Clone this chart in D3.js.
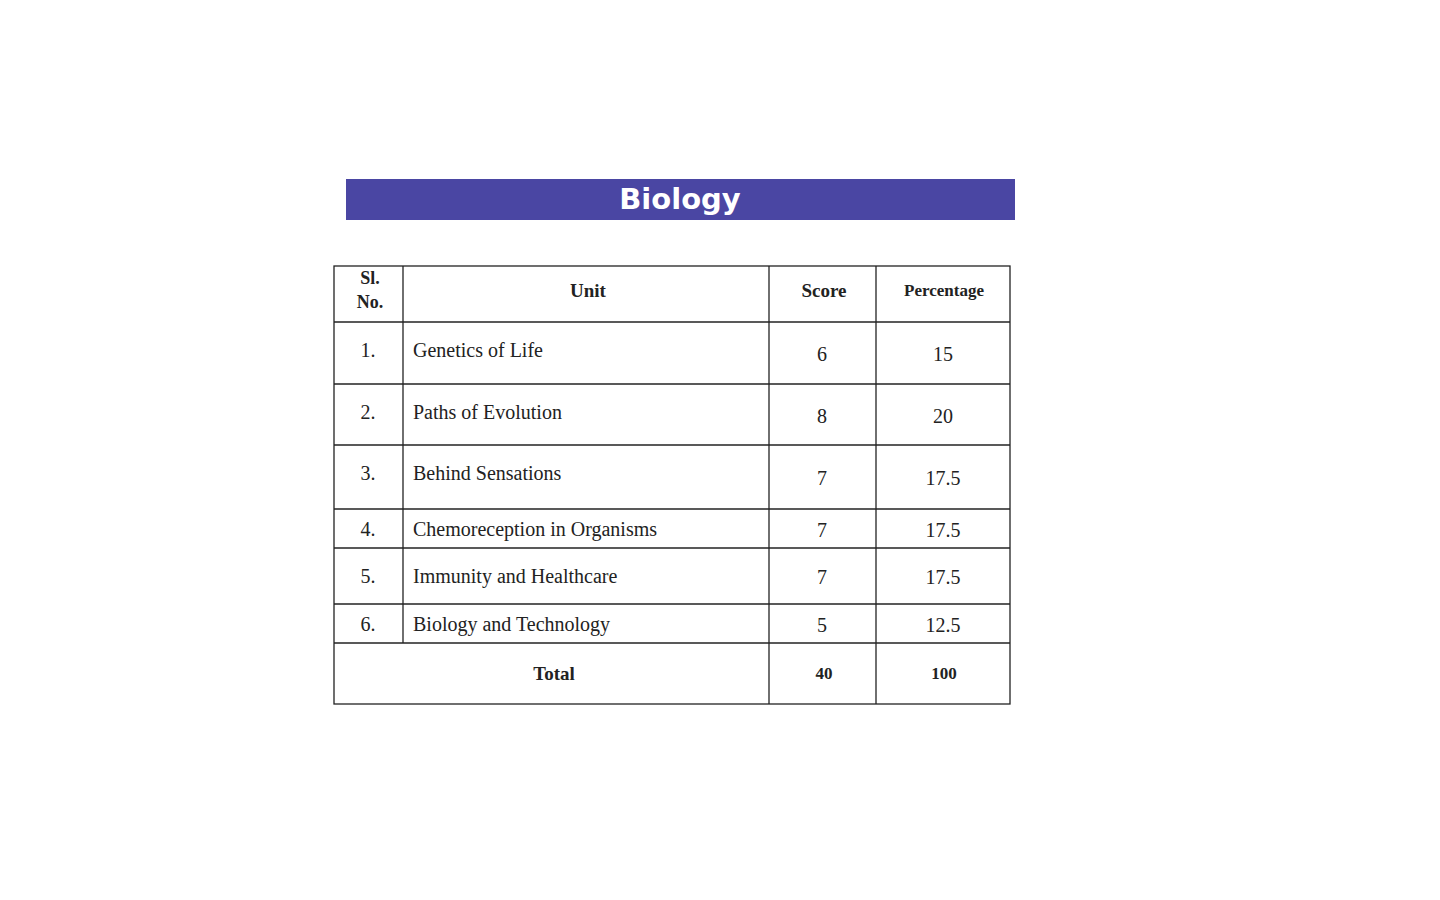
<!DOCTYPE html>
<html><head><meta charset="utf-8">
<script src="https://cdn.jsdelivr.net/npm/d3@7"></script>
<style>body{margin:0;background:#fff}</style>
</head><body>
<svg id="chart" width="1440" height="900"></svg>
<script>
var title = "Biology";
var headers = ["Sl.\nNo.", "Unit", "Score", "Percentage"];
var serials = ["1.", "2.", "3.", "4.", "5.", "6."];
var units = ["Genetics of Life", "Paths of Evolution", "Behind Sensations",
  "Chemoreception in Organisms", "Immunity and Healthcare", "Biology and Technology"];
var scores = [6, 8, 7, 7, 7, 5];
var percentages = [15, 20, 17.5, 17.5, 17.5, 12.5];
var totalLabel = "Total", totalScore = 40, totalPct = 100;

// layout
var colEdges = [334, 403, 769, 876, 1010];
var rowEdges = [266, 322, 384, 445, 509, 548, 604, 643, 704];
var serif = "'Liberation Serif','Times New Roman',serif";

var svg = d3.select("#chart");

// banner
svg.append("rect").attr("x", 346).attr("y", 179).attr("width", 669).attr("height", 41)
  .attr("fill", "#4a46a3");
svg.append("text").attr("x", 680).attr("y", 209).attr("text-anchor", "middle")
  .attr("fill", "#fff").attr("font-family", "'DejaVu Sans',sans-serif")
  .attr("font-weight", "bold").attr("font-size", 29).text(title);

var g = svg.append("g").attr("fill", "none").attr("stroke", "#222").attr("stroke-width", 1.3);
g.append("rect").attr("x", colEdges[0]).attr("y", rowEdges[0])
  .attr("width", colEdges[4] - colEdges[0]).attr("height", rowEdges[8] - rowEdges[0]);
rowEdges.slice(1, -1).forEach(function(y) {
  g.append("line").attr("x1", colEdges[0]).attr("x2", colEdges[4]).attr("y1", y).attr("y2", y);
});
colEdges.slice(1, -1).forEach(function(x, i) {
  g.append("line").attr("x1", x).attr("x2", x).attr("y1", rowEdges[0])
    .attr("y2", i === 0 ? rowEdges[7] : rowEdges[8]);
});

function txt(x, y, s, anchor, bold, size) {
  return svg.append("text").attr("x", x).attr("y", y).attr("text-anchor", anchor || "middle")
    .attr("font-family", serif).attr("font-size", size || 20).attr("fill", "#222")
    .attr("font-weight", bold ? "bold" : "normal").text(s);
}
// header
txt(370, 284, "Sl.", "middle", true, 18);
txt(370, 308, "No.", "middle", true, 18);
txt(588, 297, headers[1], "middle", true, 19);
txt(824, 297, headers[2], "middle", true, 19);
txt(944, 296, headers[3], "middle", true, 17);

serials.forEach(function(s, i) {
  var top = rowEdges[i + 1], bot = rowEdges[i + 2];
  var yTxt = top + Math.min(35, (bot - top) / 2 + 7);
  var yNum = top + (bot - top) / 2 + 8;
  txt(368, yTxt, s);
  txt(413, yTxt, units[i], "start");
  txt(822, yNum, scores[i]);
  txt(943, yNum, percentages[i]);
});
txt(554, 680, totalLabel, "middle", true, 19);
txt(824, 679, totalScore, "middle", true, 17);
txt(944, 679, totalPct, "middle", true, 17);
</script>
</body></html>
